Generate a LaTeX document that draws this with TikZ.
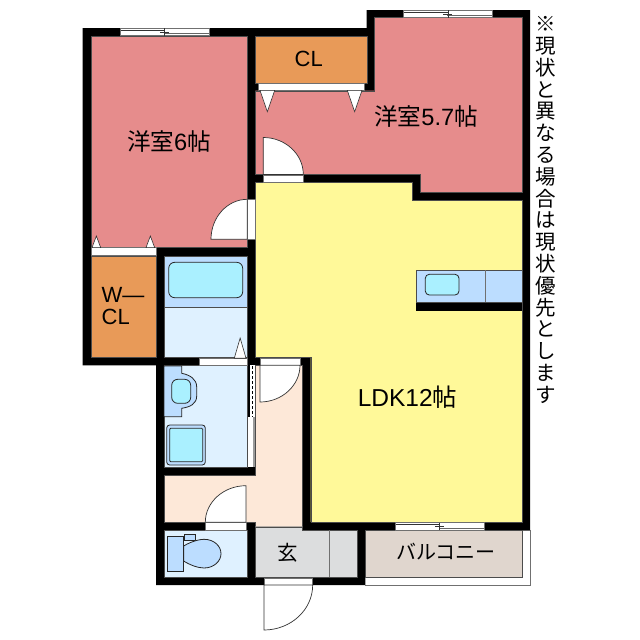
\documentclass[tikz,border=0pt]{standalone}
\usepackage{fontspec}
\setmainfont{Liberation Sans}
\newfontfamily\jpfont{Noto Sans CJK JP}
\definecolor{roompink}{HTML}{E68C8C}
\definecolor{closetorange}{HTML}{E89A58}
\definecolor{ldkyellow}{HTML}{FFF999}
\definecolor{waterpale}{HTML}{DFF1FF}
\definecolor{watermid}{HTML}{BCDDFF}
\definecolor{watercyan}{HTML}{AAF0FF}
\definecolor{hallpeach}{HTML}{FDE8D8}
\definecolor{entrygray}{HTML}{DCDDDE}
\definecolor{balconytan}{HTML}{E0D6CE}
\definecolor{edgegray}{HTML}{707070}
\tikzset{
    room/.style={line width=.4pt, draw=black!70},
    fixture/.style={draw=black!85, line width=.8pt},
    leaf/.style={fill=white, draw=black!80, line width=.7pt},
    strip/.style={fill=white, draw=edgegray, line width=.5pt},
    label/.style={font=\fontsize{22}{26}\selectfont, inner sep=0pt},
}
\begin{document}
\begin{tikzpicture}[x=1pt, y=-1pt]
\useasboundingbox(0,0)rectangle(640,640);
\draw[edgegray, line width=.8pt](365.3,530)--(530,530)--(530,585)--(365.3,585);
\fill[black](82.7,28)--(366.7,28)--(366.7,10)--(530,10)--(530,530)--(365.3,530)--(365.3,585)--(156,585)--(156,365.3)--(82.7,365.3)--cycle;

\filldraw[room, fill=roompink](90.7,36)rectangle(247.3,247.3);
\filldraw[room, fill=roompink](374.3,17.5)--(522,17.5)--(522,192.5)--(420.3,192.5)--(420.3,174.5)--(255.3,174.5)--(255.3,90.7)--(374.3,90.7)--cycle;
\filldraw[room, fill=closetorange](255.3,36)rectangle(366.7,82.7);
\filldraw[room, fill=closetorange](90.7,256)rectangle(156,357.3);
\filldraw[room, fill=ldkyellow](255.3,182.5)--(412.3,182.5)--(412.3,200.5)--(522,200.5)--(522,522)--(310.7,522)--(310.7,357.3)--(255.3,357.3)--cycle;
\filldraw[room, fill=hallpeach](255.3,365.3)--(302.4,365.3)--(302.4,526.7)--(255.3,526.7)--(255.3,522)--(164,522)--(164,475.3)--(255.3,475.3)--cycle;
\filldraw[room, fill=waterpale](164,256)rectangle(247.3,357.3);
\filldraw[room, fill=watermid](164,256)rectangle(247.3,306.7);
\filldraw[room, fill=waterpale](164,365.3)rectangle(247.3,467.3);
\filldraw[room, fill=waterpale](164,530)rectangle(247.3,577.3);
\filldraw[room, fill=entrygray](255.3,526.7)--(302.4,526.7)--(302.4,530)--(357.3,530)--(357.3,577.3)--(255.3,577.3)--cycle;
\draw[edgegray, line width=.6pt](329.3,530)--(329.3,577.3);
\filldraw[room, fill=balconytan](365.3,530)rectangle(522.3,577.3);

% kitchen counter
\fill[black](416,302)rectangle(522,310.7);
\filldraw[room, fill=watermid](416,270)rectangle(522,302.3);
\draw[edgegray, line width=.6pt](485.3,270)--(485.3,302.3);
\filldraw[fixture, fill=watercyan, rounded corners=4pt](425.3,274.3)rectangle(459,295);

% bath
\filldraw[fixture, fill=watercyan, rounded corners=6pt](168.7,262.3)rectangle(242.7,297.7);
\filldraw[fixture, fill=watermid](164,366)--(181.7,366)--(181.7,373.3)..controls(190,375)and(196.7,379)..(196.7,387)--(196.7,396)..controls(196.7,404)and(190,407)..(181.7,408.3)--(181.7,416.7)--(164,416.7)--cycle;
\filldraw[fixture, fill=watercyan, rounded corners=6pt](171.7,379.3)rectangle(190.7,403.3);
\filldraw[fixture, fill=watermid, rounded corners=3pt](166.7,425)rectangle(205.3,465);
\filldraw[fixture, fill=watercyan, rounded corners=1pt](169.7,428.3)rectangle(202.7,461.7);

% toilet
\filldraw[fixture, fill=watermid](167.3,536.7)rectangle(183.3,571);
\filldraw[fixture, fill=watermid](184.3,534.3)rectangle(195.3,540);
\filldraw[fixture, fill=watermid](183.6,546)..controls(192,541)and(200,539.3)..(204,539.3)..controls(214,539.3)and(221,546)..(221,553.7)..controls(221,561)and(214,568)..(204,568)..controls(198,568)and(190,565)..(183.6,561)--cycle;

% sliding door
\fill[white](247.6,365.3)rectangle(255.3,467.3);
\fill[black](248,365.3)rectangle(250,416.7);
\draw[black, line width=1pt, dash pattern=on 3pt off 2pt](252.7,366)--(252.7,416.7);
\fill[edgegray!70](253,417)rectangle(255.3,467.3);

\foreach \xa/\ya/\xb/\yb in {258/83.3/364/90.5, 91/247.6/156/255.3, 247.5/199.3/255.3/239.3, 263.3/174.8/303.3/182.5, 199.3/358.2/247.7/365.2, 260/358.2/300/365.2, 205.3/522.6/246/530, 264/577.8/312.7/585}
{
    \filldraw[strip](\xa,\ya)rectangle(\xb,\yb);
}
\foreach \hx/\hy/\ex/\ey in {247.3/239.3/211/199.3, 263.3/174.5/303.3/137.5, 260/365.2/300/402, 246/522.3/205.3/485.7, 264/585/312.7/630}
{
    \filldraw[leaf](\ex,\hy)..controls(\ex,{\hy+.55*(\ey-\hy)})and({\hx+.55*(\ex-\hx)},\ey)..(\hx,\ey)--(\hx,\hy)--cycle;
}
\foreach \xa/\xb/\ty/\by in {260/274.7/90.4/111.7, 347.3/362/90.4/111.7, 92/100.7/247.6/236, 146/154.7/247.6/236, 234.3/246/358.2/338}
{
    \filldraw[leaf, line width=.6pt](\xa,\ty)--(\xb,\ty)--({(\xa+\xb)/2},\by)--cycle;
}
\foreach \wx/\wy in {120/28.2, 403.3/10.2, 395/522.7}
{
    \filldraw[strip](\wx,\wy)rectangle(\wx+89,\wy+7.3);
    \draw[black!80, line width=.6pt](\wx+1,\wy+2)--(\wx+45,\wy+2);
    \draw[black!60, line width=1pt](\wx+44,\wy+5.3)--(\wx+89,\wy+5.3);
    \draw[black!80, line width=.6pt](\wx+44.5,\wy)--(\wx+44.5,\wy+7.3);
    \draw[black!80, line width=.6pt](\wx+40,\wy+3.6)--(\wx+49,\wy+3.6);
}

\node[label, font=\fontsize{23.6}{26}\selectfont](roomsix)at(169,141.5){{\jpfont 洋室}6{\jpfont 帖}};
\node[label, font=\fontsize{23.6}{26}\selectfont](roomfive)at(426,117){{\jpfont 洋室}5.7{\jpfont 帖}};
\node[label](cltop)at(308.7,59){CL};
\node[label, align=left, font=\fontsize{22}{21.5}\selectfont](clwalk)at(123,306){W—\\CL};
\node[label, font=\fontsize{24.5}{26}\selectfont](ldk)at(407.5,397){LDK12{\jpfont 帖}};
\node[label, font=\fontsize{20.5}{24}\selectfont\jpfont](entry)at(288,553){玄};
\node[label, font=\fontsize{20}{24}\selectfont\jpfont](balcony)at(446,552){バルコニー};
\node[label, align=center, font=\fontsize{20.5}{21.8}\selectfont\jpfont](remark)at(545.5,210){※\\現\\状\\と\\異\\な\\る\\場\\合\\は\\現\\状\\優\\先\\と\\し\\ま\\す};
\end{tikzpicture}
\end{document}
